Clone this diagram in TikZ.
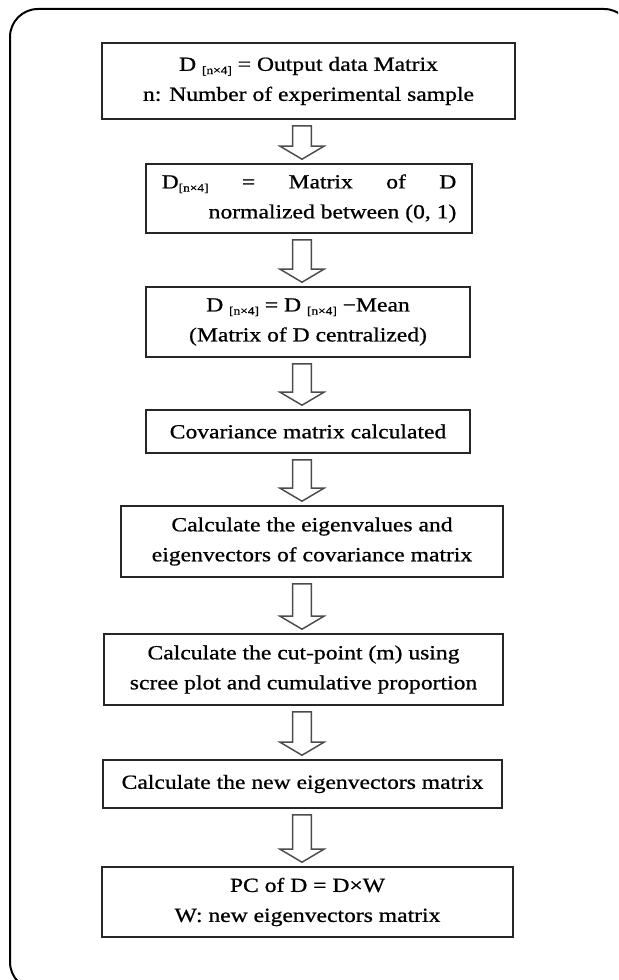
\documentclass[tikz,border=0pt]{standalone}
\usepackage{fontspec}
\setmainfont[FakeStretch=1.18, FakeBold=0.8]{Liberation Serif}
\usetikzlibrary{calc}
\newcommand\sbx[1]{\raisebox{-0.35ex}{\fontsize{8.5}{9}\selectfont #1}}
\tikzset{
  box/.style={draw=black!85, line width=1.2pt, fill=white, inner sep=0pt, align=center,
    font=\fontsize{15}{22.5}\selectfont},
  blockarr/.style={draw=black!70, line width=1.1pt, fill=white, line join=miter},
  frame/.style={draw=black, line width=1.5pt, rounded corners=21pt}
}
\newcommand\blockarrow[2]{%
  \path[blockarr] let \p1=($(#1.south -| ax)+(0,6)$), \p2=($(#2.north -| ax)+(0,-4)$) in
    (\x1-7.1pt,\y1) -- (\x1+7.1pt,\y1) -- (\x1+7.1pt,\y2+9.75pt) -- (\x1+16.5pt,\y2+9.75pt)
    -- (\x1,\y2) -- (\x1-16.5pt,\y2+9.75pt) -- (\x1-7.1pt,\y2+9.75pt) -- cycle;}
\begin{document}
\begin{tikzpicture}[x=0.75pt, y=-0.75pt]
\useasboundingbox (0,0) rectangle (618,980);
\begin{scope}
\clip (0,0) rectangle (618,980);
\draw[frame] (10,9) rectangle (632,990);
\end{scope}
\coordinate (ax) at (302,0);

\node[box, minimum width=309.75pt, minimum height=57pt] (b1) at (308.5,81)
  {D \sbx{[n×4]} = Output data Matrix\\ n: Number of experimental sample};
\node[box, minimum width=244.5pt, minimum height=51.75pt] (b2) at (309,198.5)
  {\hbox to 221pt{D\sbx{[n×4]}\hfill=\hfill Matrix\hfill of\hfill D}\\
   \hbox to 221pt{\hfill normalized between (0, 1)}};
\node[box, minimum width=243pt, minimum height=52.5pt] (b3) at (308,322)
  {D \sbx{[n×4]} = D \sbx{[n×4]} −Mean\\ (Matrix of D centralized)};
\node[box, minimum width=243pt, minimum height=32.25pt] (b4) at (308,431.5)
  {Covariance matrix calculated};
\node[box, minimum width=286.5pt, minimum height=53.25pt] (b5) at (312,541.5)
  {Calculate the eigenvalues and\\ eigenvectors of covariance matrix};
\node[box, minimum width=299.25pt, minimum height=53.25pt] (b6) at (303.5,669.5)
  {Calculate the cut-point (m) using\\ scree plot and cumulative proportion};
\node[box, minimum width=299.25pt, minimum height=36pt] (b7) at (302.5,784)
  {Calculate the new eigenvectors matrix};
\node[box, minimum width=308.25pt, minimum height=52.5pt] (b8) at (307.5,902)
  {PC of D = D×W\\ W: new eigenvectors matrix};

\blockarrow{b1}{b2}
\blockarrow{b2}{b3}
\blockarrow{b3}{b4}
\blockarrow{b4}{b5}
\blockarrow{b5}{b6}
\blockarrow{b6}{b7}
\blockarrow{b7}{b8}
\end{tikzpicture}
\end{document}
